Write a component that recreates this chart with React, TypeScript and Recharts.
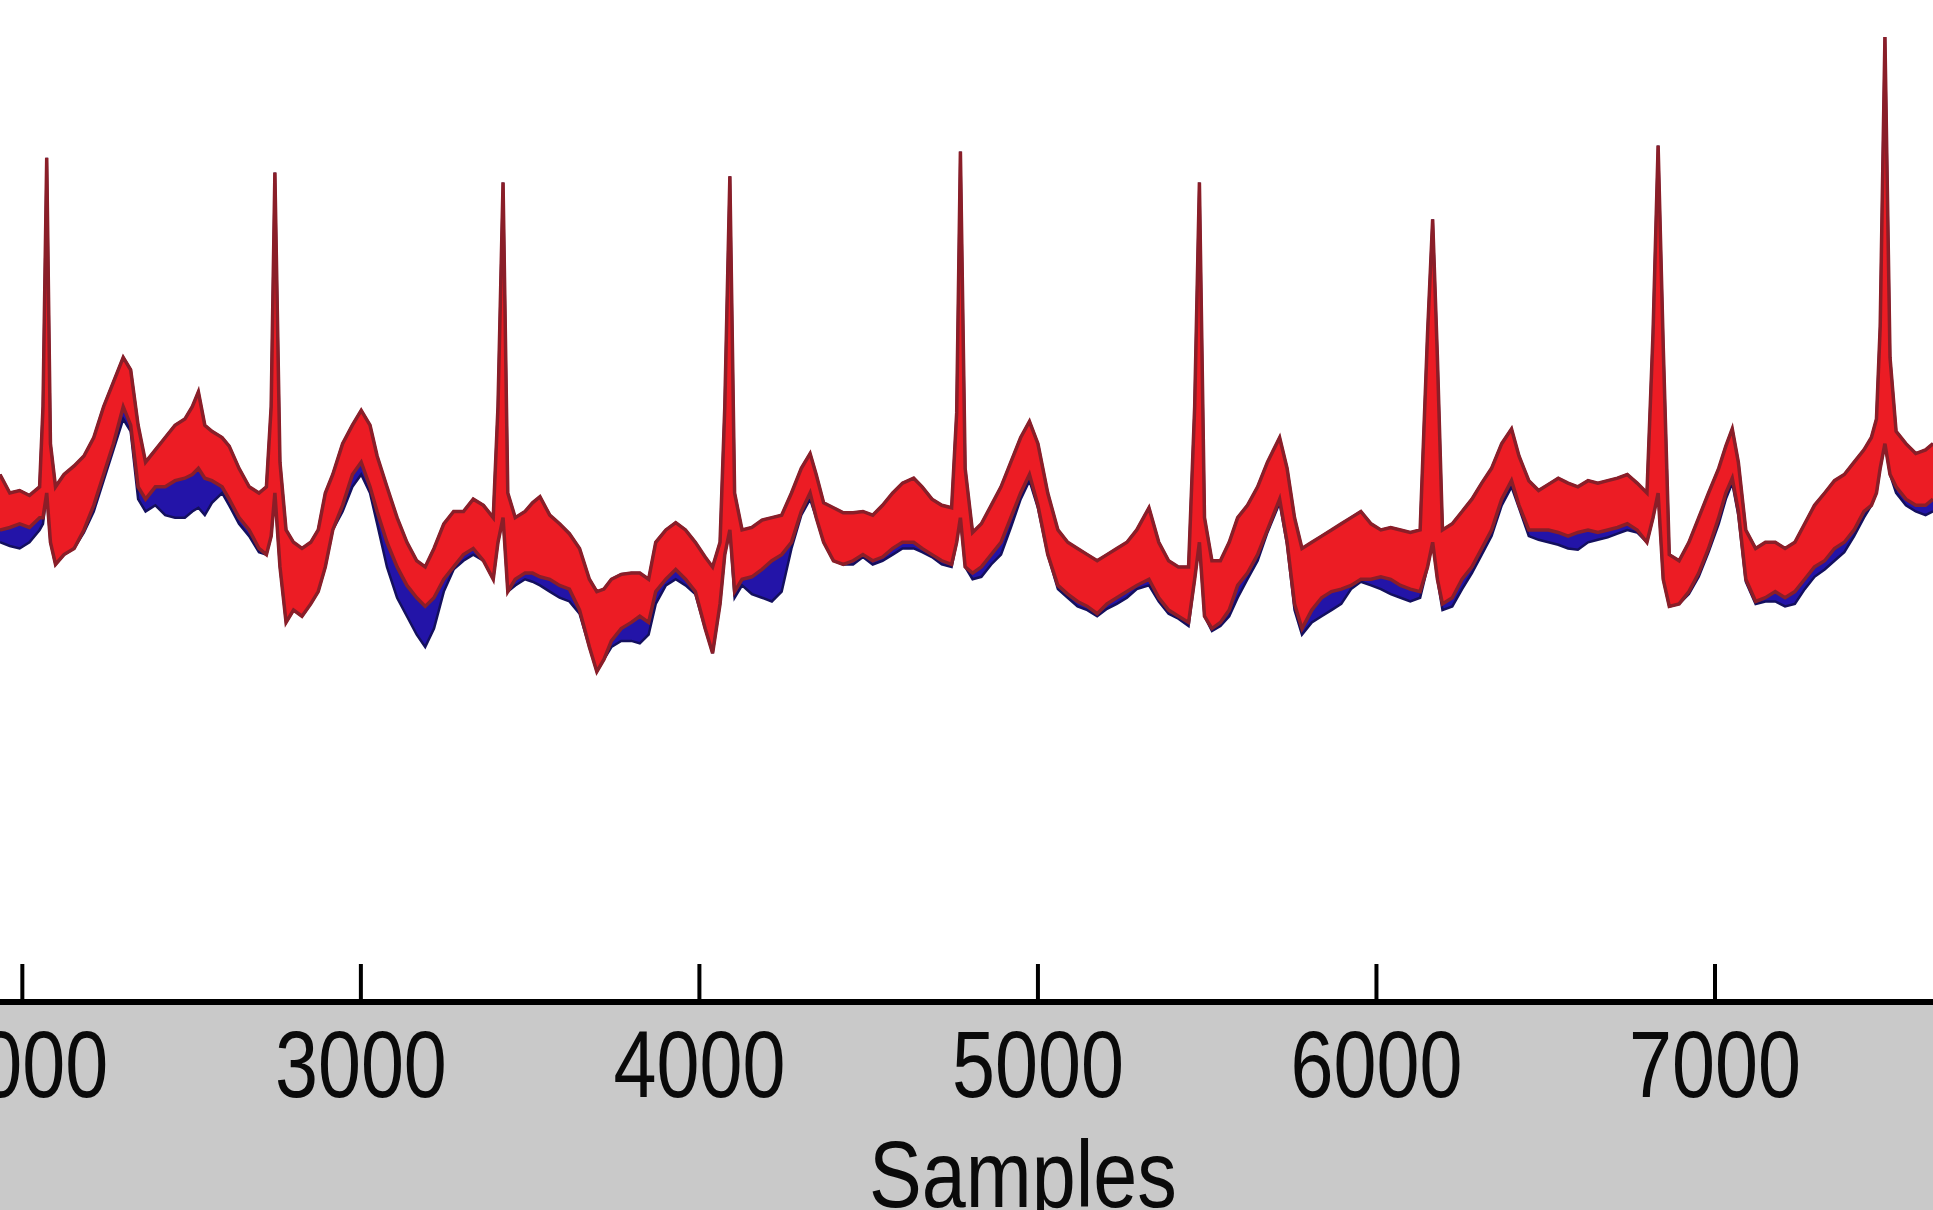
import React from 'react';
import { ComposedChart, Area, XAxis, YAxis, Label } from 'recharts';

// sample index of each reading
const samples = [
  1934, 1963, 1992, 2021, 2051, 2061, 2072, 2083, 2098, 2123, 2153, 2182, 2211, 2240, 2269, 2298, 2320, 2342, 2364, 2393,
  2422, 2451, 2480, 2502, 2520, 2539, 2560, 2590, 2611, 2640, 2670, 2699, 2721, 2735, 2746, 2761, 2779, 2801, 2826, 2852,
  2874, 2895, 2917, 2946, 2975, 3001, 3027, 3048, 3077, 3107, 3136, 3165, 3190, 3216, 3245, 3274, 3303, 3332, 3362, 3391,
  3405, 3420, 3434, 3456, 3485, 3507, 3529, 3558, 3587, 3616, 3646, 3675, 3697, 3718, 3740, 3769, 3799, 3824, 3850, 3871,
  3901, 3930, 3959, 3988, 4017, 4039, 4061, 4075, 4090, 4104, 4126, 4155, 4185, 4214, 4243, 4272, 4301, 4327, 4345, 4367,
  4396, 4425, 4454, 4483, 4512, 4541, 4571, 4600, 4633, 4658, 4687, 4716, 4745, 4760, 4771, 4785, 4807, 4833, 4862, 4891,
  4920, 4949, 4975, 5000, 5029, 5059, 5088, 5117, 5146, 5175, 5204, 5233, 5263, 5292, 5328, 5357, 5386, 5415, 5445, 5463,
  5477, 5492, 5514, 5539, 5565, 5590, 5619, 5649, 5678, 5714, 5736, 5758, 5780, 5809, 5838, 5867, 5896, 5925, 5954, 5984,
  6013, 6042, 6071, 6100, 6129, 6151, 6166, 6180, 6195, 6224, 6253, 6282, 6311, 6340, 6370, 6399, 6421, 6450, 6479, 6508,
  6537, 6566, 6595, 6625, 6654, 6683, 6712, 6741, 6770, 6799, 6817, 6832, 6847, 6865, 6894, 6923, 6952, 6981, 7011, 7032,
  7051, 7069, 7091, 7120, 7149, 7178, 7207, 7236, 7265, 7294, 7324, 7353, 7382, 7411, 7440, 7462, 7477, 7488, 7502, 7517,
  7535, 7564, 7593, 7622, 7644,
];

// upper envelope of the noisy trace (both signals share it; red lies on top)
const upperEnvelope = [
  100, 40, 48, 32, 60, 320, 1128, 200, 60, 100, 128, 160, 220, 320, 400, 480, 440, 260, 140, 180,
  220, 260, 280, 320, 368, 260, 240, 220, 192, 120, 60, 40, 60, 320, 1080, 140, -80, -120, -140, -120,
  -80, 40, 100, 200, 260, 308, 260, 160, 60, -40, -120, -180, -200, -140, -60, -20, -20, 20, 0, -40,
  320, 1048, 40, -40, -20, 8, 28, -32, -60, -92, -140, -240, -280, -272, -240, -224, -220, -220, -240, -120,
  -80, -56, -80, -120, -168, -200, -120, 320, 1068, 40, -80, -72, -48, -40, -32, 40, 120, 168, 100, 8,
  -8, -24, -24, -20, -32, 0, 40, 72, 88, 60, 20, 0, -8, 300, 1148, 120, -88, -60, 0, 60,
  140, 220, 272, 200, 40, -80, -120, -140, -160, -180, -160, -140, -120, -80, -8, -120, -180, -200, -200, 320,
  1048, -40, -180, -180, -120, -40, 0, 60, 140, 220, 120, -40, -140, -120, -100, -80, -60, -40, -20, -60,
  -80, -72, -80, -88, -80, 560, 928, 480, -80, -60, -20, 20, 72, 120, 200, 248, 160, 80, 48, 68,
  88, 72, 60, 80, 72, 80, 88, 100, 72, 40, 560, 1168, 520, -160, -180, -120, -40, 40, 120, 192,
  248, 140, -80, -140, -120, -120, -140, -120, -60, 0, 40, 80, 100, 140, 180, 220, 280, 580, 1520, 480,
  240, 200, 168, 180, 200,
];

// lower edge of the red (processed) trace
const redLower = [
  -80, -72, -60, -72, -40, -40, 40, -120, -192, -160, -140, -80, 0, 100, 200, 320, 260, 60, 20, 60,
  60, 80, 88, 100, 120, 88, 80, 60, 20, -40, -80, -140, -160, -100, 40, -200, -380, -340, -360, -320,
  -280, -200, -80, 0, 100, 140, 60, -20, -120, -200, -260, -300, -328, -300, -240, -200, -160, -140, -180, -240,
  -120, -40, -280, -240, -220, -220, -232, -240, -260, -272, -340, -460, -540, -500, -440, -400, -380, -360, -380, -280,
  -240, -208, -240, -280, -400, -480, -320, -160, -80, -280, -240, -232, -208, -180, -160, -120, -20, 40, -40, -120,
  -180, -192, -180, -160, -180, -168, -140, -120, -120, -140, -160, -180, -192, -120, -40, -200, -220, -200, -160, -120,
  -40, 40, 100, 0, -160, -260, -288, -312, -328, -352, -320, -300, -280, -260, -240, -300, -340, -360, -380, -240,
  -120, -360, -400, -380, -340, -260, -220, -160, -80, 20, -120, -320, -400, -340, -300, -280, -272, -260, -240, -240,
  -232, -240, -260, -272, -280, -200, -120, -240, -320, -300, -240, -200, -140, -80, 20, 80, 0, -80, -80, -80,
  -88, -100, -88, -80, -88, -80, -72, -60, -80, -120, -40, 40, -240, -328, -320, -280, -220, -140, -40, 40,
  88, -20, -240, -312, -300, -280, -300, -280, -240, -200, -180, -140, -120, -80, -20, 0, 40, 120, 200, 100,
  60, 20, 0, 0, 20,
];

// lower edge of the blue (original) trace
const blueLower = [
  -120, -132, -140, -120, -80, -60, 40, -120, -192, -160, -140, -88, -20, 80, 180, 280, 240, 20, -20, 0,
  -32, -40, -40, -20, -8, -32, 8, 40, 0, -60, -100, -152, -160, -100, 40, -200, -380, -340, -360, -320,
  -280, -200, -80, -20, 60, 100, 40, -60, -200, -300, -360, -420, -460, -400, -280, -208, -180, -160, -180, -240,
  -120, -40, -280, -260, -240, -248, -260, -280, -300, -312, -352, -460, -540, -500, -460, -440, -440, -448, -420, -320,
  -260, -240, -260, -288, -400, -480, -320, -160, -80, -300, -260, -288, -300, -312, -280, -140, -32, 20, -40, -120,
  -180, -192, -192, -168, -192, -180, -160, -140, -140, -152, -168, -192, -200, -120, -40, -200, -240, -232, -192, -160,
  -72, 20, 80, -8, -160, -272, -300, -328, -340, -360, -336, -320, -300, -272, -260, -312, -352, -368, -392, -240,
  -120, -360, -408, -392, -360, -300, -240, -180, -88, 8, -128, -340, -420, -380, -360, -340, -320, -272, -248, -260,
  -272, -288, -300, -312, -300, -200, -120, -240, -340, -328, -272, -220, -160, -100, 0, 60, -8, -100, -112, -120,
  -128, -140, -144, -120, -112, -104, -92, -80, -88, -120, -40, 40, -240, -328, -320, -288, -232, -152, -60, 20,
  72, -32, -248, -320, -312, -312, -328, -320, -272, -232, -208, -180, -152, -100, -40, 0, 40, 120, 200, 100,
  40, 0, -20, -32, -20,
];

const xTicks = [2000, 3000, 4000, 5000, 6000, 7000];

const data = samples.map((s, i) => ({
  s,
  red: [redLower[i], upperEnvelope[i]],
  blue: [blueLower[i], upperEnvelope[i]],
}));

const FONT = "'Liberation Sans', Arial, sans-serif";

const Tick = (props: any) => {
  const { x, y, payload } = props;
  return (
    <g>
      <line x1={x} x2={x} y1={y - 38} y2={y} stroke="#000" strokeWidth={4} />
      <text
        transform={`translate(${x},${y + 95}) scale(0.84,1.03)`}
        x={0}
        y={0}
        textAnchor="middle"
        fontSize={92}
        fontFamily={FONT}
        fill="#0a0a0a"
      >
        {payload.value}
      </text>
    </g>
  );
};

export default function App() {
  return (
    <div style={{ position: 'absolute', left: 0, top: 0, width: 1933, height: 1210, background: '#c9c9c9', overflow: 'hidden' }}>
      <div style={{ position: 'absolute', left: 0, top: 0, width: 1933, height: 1002, background: '#ffffff' }} />
      <div style={{ position: 'absolute', left: 0, top: 0 }}>
        <ComposedChart width={1933} height={1210} data={data} margin={{ top: 0, right: 0, left: 0, bottom: 0 }}>
          <XAxis
            dataKey="s"
            type="number"
            domain={[1934, 7644]}
            ticks={xTicks}
            interval={0}
            allowDataOverflow
            height={208}
            tickLine={false}
            tickSize={0}
            tickMargin={0}
            axisLine={{ stroke: '#000', strokeWidth: 6 }}
            tick={<Tick />}
          >
            <Label
              content={(p: any) => {
                const vb = p.viewBox || { x: 0, y: 1002, width: 1933 };
                return (
                  <text
                    transform={`translate(${vb.x + 1023},${vb.y + 205}) scale(0.86,1.03)`}
                    x={0}
                    y={0}
                    textAnchor="middle"
                    fontSize={92}
                    fontFamily={FONT}
                    fill="#0a0a0a"
                  >
                    Samples
                  </text>
                );
              }}
            />
          </XAxis>
          <YAxis type="number" domain={[-1612, 1640]} hide allowDataOverflow width={0} />
          <Area
            type="linear"
            dataKey="blue"
            stroke="#14105e"
            strokeWidth={2.5}
            fill="#2314a8"
            fillOpacity={1}
            dot={false}
            activeDot={false}
            isAnimationActive={false}
          />
          <Area
            type="linear"
            dataKey="red"
            stroke="#8a1e28"
            strokeWidth={3.5}
            fill="#ec1c24"
            fillOpacity={1}
            dot={false}
            activeDot={false}
            isAnimationActive={false}
          />
        </ComposedChart>
      </div>
    </div>
  );
}
